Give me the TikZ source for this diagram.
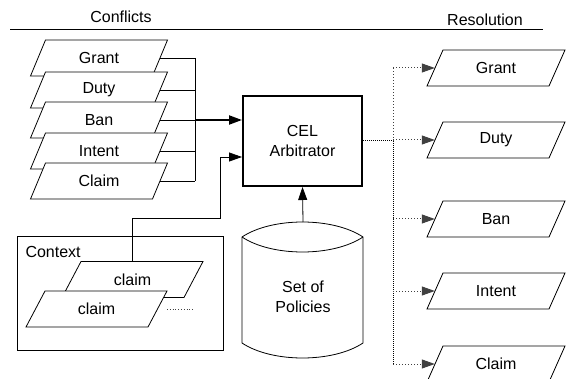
\documentclass[tikz,border=0pt]{standalone}
\usepackage{fontspec}
\setmainfont{Liberation Sans}
\usetikzlibrary{arrows.meta}

% \paral{name}{x}{y}{skew}{text}: a white parallelogram, side 122, height 36,
% slanted to the right, with a named node over its body for the connectors
\newcommand{\paral}[5]{%
  \filldraw[fill=white, line width=0.8pt]
    ($(#2,#3)+(-61-#4/2,18)$) -- ($(#2,#3)+(-61+#4/2,-18)$)
    -- ($(#2,#3)+(61+#4/2,-18)$) -- ($(#2,#3)+(61-#4/2,18)$) -- cycle;
  \node[slabbody] (#1) at (#2,#3) {#5};}

\usetikzlibrary{calc}

\begin{document}
\begin{tikzpicture}[x=1pt,y=-1pt,
  lbl/.style={font=\fontsize{16}{20}\selectfont},
  slabbody/.style={minimum width=122pt, minimum height=36pt, inner sep=0pt, lbl},
  wire/.style={line width=0.8pt},
  tip/.style={-{Triangle[length=13pt,width=9pt]}},
  bus/.style={densely dotted, line width=1pt},
  branch/.style={dotted, line width=1pt, black!75},
]
\useasboundingbox (0,0) rectangle (567,379);

% headings
\node[lbl, anchor=base] (hconf) at (121,23) {Conflicts};
\node[lbl, anchor=base] (hres) at (485,26) {Resolution};
\draw[wire] (10,29) -- (543,29);

% incoming conflicts
\paral{cg}{99}{58}{15}{Grant}
\paral{cd}{99}{90}{15}{Duty}
\paral{cb}{99}{120}{15}{Ban}
\paral{ci}{99}{151}{15}{Intent}
\paral{cc}{99}{181}{15}{Claim}

\coordinate (jtop) at (195,58);
\coordinate (jbot) at (195,181);
\coordinate (jmid) at (195,120);
\foreach \n in {cg,cd,cb,ci,cc} \draw[wire] (\n.east) -- (\n.east -| jtop);
\draw[wire] (cg.east -| jtop) -- (cc.east -| jbot);

% arbitrator
\node[draw, line width=2pt, minimum width=119pt, minimum height=90pt, lbl,
      align=center] (arb) at (302.5,141) {CEL\\Arbitrator};
\draw[line width=2pt, tip] (jmid) -- (jmid -| arb.west);

% policy store
\coordinate (ptop) at (303,222);
\filldraw[fill=white, wire] (242,237) .. controls (272,217) and (333,217) .. (363,237)
  -- (363,343) .. controls (333,363) and (272,363) .. (242,343) -- cycle;
\draw[wire] (242,237) .. controls (272,257) and (333,257) .. (363,237);
\node[lbl, align=center] (pol) at (303,297) {Set of\\Policies};
\draw[wire, tip] (ptop) -- (arb.south);

% context
\node[draw, wire, minimum width=206pt, minimum height=114pt, inner sep=0pt]
  (ctx) at (120,293) {};
\node[lbl, anchor=base west] (ctxl) at (22,258) {Context};
\paral{k1}{132.5}{279.5}{19}{claim}
\paral{k2}{96.5}{309}{19}{claim}
\coordinate (more) at (193,309);
\draw[branch, line width=0.8pt] (167,309) -- (more);
\coordinate (bend1) at (132,218);
\coordinate (bend2) at (220,218);
\draw[wire, tip] (k1.north -| bend1) -- (bend1) -- (bend2) |- (arb.west |- 0,157);

% resolutions
\paral{rg}{496}{68}{16}{Grant}
\paral{rd}{496}{140}{16}{Duty}
\paral{rb}{496}{219}{16}{Ban}
\paral{ri}{496}{291}{16}{Intent}
\paral{rc}{496}{364}{16}{Claim}

\coordinate (btop) at (393,68);
\coordinate (bmid) at (393,141);
\coordinate (bbot) at (393,364);
\draw[bus] (arb.east |- bmid) -- (bmid) -- (bbot);
\draw[branch] (bmid) -- (btop);
\foreach \n in {rg,rd,rb,ri,rc} \draw[branch, tip] (btop |- \n.west) -- (\n.west);
\end{tikzpicture}
\end{document}
